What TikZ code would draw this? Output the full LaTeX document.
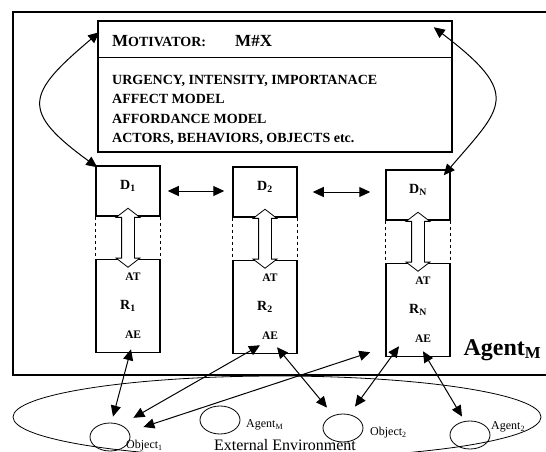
\documentclass[tikz,border=0pt]{standalone}
\usepackage{fontspec}
\setmainfont{Liberation Serif}
\usetikzlibrary{arrows.meta}
\usetikzlibrary{calc}
\usetikzlibrary{positioning}
\usetikzlibrary{shapes.arrows}
\usetikzlibrary{shapes.geometric}

\newcommand{\rtag}[1]{\hspace*{10pt}{\fontsize{11.5}{29}\selectfont #1}}

\begin{document}
\begin{tikzpicture}[x=1pt, y=-1pt,
    font=\bfseries,
    node distance=42pt,
    >={Triangle[length=11pt,width=10pt]},
    dbox/.style={shape=rectangle, draw, line width=1.5pt,
      minimum width=64pt, minimum height=50pt, text depth=12pt,
      font=\bfseries\fontsize{14}{14}\selectfont},
    rbox/.style={shape=rectangle, draw, line width=1.5pt,
      minimum width=64pt, minimum height=93pt, align=center,
      font=\bfseries\fontsize{14}{29}\selectfont},
    hollow/.style={shape=double arrow, draw, line width=0.8pt, fill=white,
      rotate=90, minimum height=59pt, minimum width=23pt,
      inner xsep=0pt, inner ysep=6pt, double arrow head extend=5.5pt,
      double arrow tip angle=105},
    link/.style={<->, line width=1pt},
    thing/.style={shape=ellipse, draw, line width=0.8pt,
      minimum width=40pt, minimum height=28pt},
    envlbl/.style={anchor=west, inner sep=0pt,
      font=\normalfont\fontsize{12}{12}\selectfont}]

    \fill[white] (0,0) rectangle (546,452);
    \useasboundingbox (0,0) rectangle (546,452);

    % agent frame
    \draw[line width=1.8pt] (560,12) -- (13,12) -- (13,375) -- (560,375);
    \node[name=agent, anchor=base west,
      font=\bfseries\fontsize{24}{24}\selectfont] at (460,355) {Agent\textsubscript{M}};

    % motivator
    \node[name=mot,
      shape=rectangle,
      draw,
      line width=1.5pt,
      minimum width=354pt,
      minimum height=131pt] at (275,86.5) {};
    \draw[line width=0.7pt] ([yshift=-37pt]mot.north west) -- ([yshift=-37pt]mot.north east);
    \node[name=head, anchor=base west, inner sep=0pt] at (112,47)
      {{\fontsize{17}{17}\selectfont M}{\fontsize{14}{17}\selectfont OTIVATOR:}};
    \node[name=mx, anchor=base west, inner sep=0pt,
      font=\bfseries\fontsize{17}{17}\selectfont] at (235,47) {M\#X};
    \node[name=body, anchor=north west, inner sep=0pt, align=left,
      font=\bfseries\fontsize{14}{19.3}\selectfont] at (112,75)
      {URGENCY, INTENSITY, IMPORTANACE\\
       AFFECT MODEL\\
       AFFORDANCE MODEL\\
       ACTORS, BEHAVIORS, OBJECTS etc.};

    % columns
    \node[dbox] (D1) at (128,191) {D\textsubscript{1}};
    \node[dbox] (D2) at (265,192) {D\textsubscript{2}};
    \node[dbox] (DN) at (418,195) {D\textsubscript{N}};

    \node[rbox, below=of D1] (R1) {\rtag{AT}\\R\textsubscript{1}\\\rtag{AE}};
    \node[rbox, below=of D2] (R2) {\rtag{AT}\\R\textsubscript{2}\\\rtag{AE}};
    \node[rbox, below=of DN] (RN) {\rtag{AT}\\R\textsubscript{N}\\\rtag{AE}};

    \draw[dashed, line width=1pt] (D1.south west) -- (R1.north west);
    \draw[dashed, line width=1pt] (D1.south east) -- (R1.north east);
    \draw[dashed, line width=1pt] (D2.south west) -- (R2.north west);
    \draw[dashed, line width=1pt] (D2.south east) -- (R2.north east);
    \draw[dashed, line width=1pt] (DN.south west) -- (RN.north west);
    \draw[dashed, line width=1pt] (DN.south east) -- (RN.north east);

    \node[hollow] (v1) at ($(D1.south)!0.5!(R1.north)$) {};
    \node[hollow] (v2) at ($(D2.south)!0.5!(R2.north)$) {};
    \node[hollow] (vN) at ($(DN.south)!0.5!(RN.north)$) {};

    \draw[link] ([xshift=7pt]D1.east) -- ([xshift=-8pt]D1.east -| D2.west);
    \draw[link] ([xshift=15pt]D2.east) -- ([xshift=-15pt]D2.east -| DN.west);

    \draw[link] ([xshift=2pt,yshift=-2pt]D1.north west)
      .. controls (20,111) and (26,94) .. ([xshift=2pt,yshift=-12pt]mot.north west);
    \draw[link] ([xshift=-7pt,yshift=-6pt]DN.north east)
      .. controls (502,107) and (523,95) .. ([xshift=-19pt,yshift=-7pt]mot.north east);

    % external environment
    \node[name=env, shape=ellipse, draw, line width=0.8pt,
      minimum width=528pt, minimum height=82pt] at (277,417) {};
    \node[thing] (O1) at (110,437) {};
    \node[thing] (AM) at (220,420) {};
    \node[thing] (O2) at (343,428) {};
    \node[thing] (A2) at (470,435) {};

    \node[envlbl] (O1lbl) at (126,446) {Object\textsubscript{1}};
    \node[envlbl] (AMlbl) at (246,425) {Agent\textsubscript{M}};
    \node[envlbl] (O2lbl) at (370,433) {Object\textsubscript{2}};
    \node[envlbl] (A2lbl) at (491,427) {Agent\textsubscript{2}};
    \node[name=extlbl, anchor=base,
      font=\normalfont\fontsize{16}{16}\selectfont] at (285,450) {External Environment};

    \draw[link] ([xshift=3pt,yshift=4pt]R1.south) -- ([xshift=3pt,yshift=6pt]O1.north);
    \draw[link] ([xshift=-5pt,yshift=9pt]R2.south) -- ([xshift=9pt,yshift=9pt]O1.north east);
    \draw[link] ([xshift=-15pt,yshift=5pt]RN.south west) -- ([xshift=13pt,yshift=10pt]O1.east);
    \draw[link] ([xshift=12pt,yshift=7pt]R2.south) -- ([xshift=-16pt,yshift=6pt]O2.north);
    \draw[link] ([xshift=-19pt,yshift=11pt]RN.south) -- ([xshift=12pt,yshift=7pt]O2.north);
    \draw[link] ([xshift=5pt,yshift=6pt]RN.south) -- ([xshift=-8pt,yshift=4pt]A2.north);
  \end{tikzpicture}
\end{document}
